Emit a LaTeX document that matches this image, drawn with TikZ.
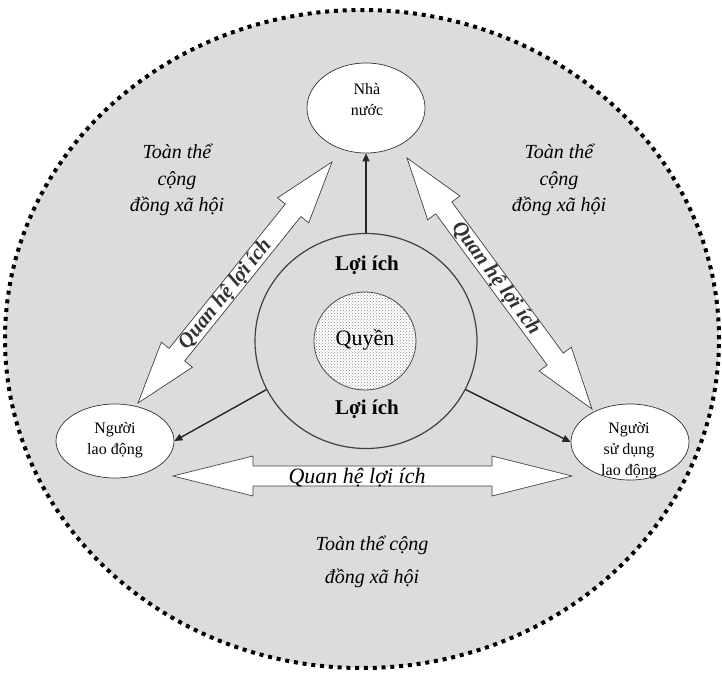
\documentclass[tikz,border=0pt]{standalone}
\usepackage{fontspec}
\setmainfont{Liberation Serif}
\usetikzlibrary{shapes.geometric,calc,arrows.meta,patterns}
\definecolor{fieldgray}{HTML}{DCDCDC}

% hollow double-headed block arrow between two named points
% #1 = head length, #2/#3 = tips
\newcommand\blockarrow[3][62pt]{%
  \coordinate (ha) at ($(#2)!#1!(#3)$);
  \coordinate (hb) at ($(#3)!#1!(#2)$);
  \draw[blockarrow] (#2) -- ($(ha)!20pt!90:(#3)$) -- ($(ha)!10pt!90:(#3)$)
    -- ($(hb)!10pt!270:(#2)$) -- ($(hb)!20pt!270:(#2)$) -- (#3)
    -- ($(hb)!20pt!90:(#2)$) -- ($(hb)!10pt!90:(#2)$)
    -- ($(ha)!10pt!270:(#3)$) -- ($(ha)!20pt!270:(#3)$) -- cycle;}

\begin{document}
\begin{tikzpicture}[x=1pt,y=-1pt,
  actor/.style={ellipse, draw=black!80, line width=0.7pt, fill=white, inner sep=0pt},
  actortext/.style={align=center, inner sep=0pt, font=\fontsize{16}{21}\selectfont},
  blockarrow/.style={draw=black!75, line width=0.7pt, fill=white, line join=miter},
  link/.style={draw=black!85, line width=1.4pt, -{Triangle[length=8pt,width=7pt]}},
  field/.style={align=center, inner sep=0pt, font=\fontsize{20}{26.5}\selectfont\itshape},
  qlabel/.style={inner sep=0pt, text=black!80, font=\fontsize{21}{21}\selectfont\bfseries\itshape},
  core/.style={inner sep=0pt, font=\fontsize{21}{21}\selectfont\bfseries}]
\useasboundingbox (0,0) rectangle (722,675);

% society as the surrounding field
\draw[line width=4pt, dash pattern=on 4pt off 4.8pt, fill=fieldgray]
  (362,339) ellipse [x radius=357pt, y radius=329pt];

% tips of the three relation arrows
\coordinate (qa1) at (332,162);
\coordinate (qa2) at (138,403);
\coordinate (qb1) at (407,158);
\coordinate (qb2) at (592,409);
\coordinate (qc1) at (173,476);
\coordinate (qc2) at (572,476);

\blockarrow{qa2}{qa1}
\blockarrow{qb1}{qb2}
\blockarrow[80pt]{qc1}{qc2}

% the three parties
\node[actor, minimum width=118pt, minimum height=90pt] (nn) at (366,108) {};
\node[actortext] (nn-t) at (367,100) {Nhà\\nước};
\node[actor, minimum width=118pt, minimum height=74pt] (nld) at (115,441) {};
\node[actortext] (nld-t) at (115,440) {Người\\lao động};
\node[actor, minimum width=118pt, minimum height=76pt] (nsd) at (630,442) {};
\node[actortext] (nsd-t) at (629,451) {Người\\sử dụng\\lao động};

% interests around rights
\node[ellipse, draw=black!75, line width=1.2pt, inner sep=0pt,
      minimum width=222pt, minimum height=215pt] (loi) at (366,341) {};
\node[ellipse, draw=black!70, line width=0.8pt, inner sep=0pt,
      preaction={fill=white}, pattern=crosshatch dots, pattern color=black!45,
      minimum width=102pt, minimum height=98pt] (quyen) at (365,341) {};
\node[inner sep=0pt, font=\fontsize{22}{22}\selectfont] (quyen-t) at (365,340) {Quyền};
\node[core] (loi-top) at (367,265) {Lợi ích};
\node[core] (loi-bot) at (367,409) {Lợi ích};

% links from the core to each party
\draw[link] (loi.north) -- (nn.south);
\draw[link] (loi.206) -- (nld.east);
\draw[link] (loi.334) -- (nsd.west);

% arrow labels
\path (qa2) -- (qa1) node[pos=0.45, sloped, qlabel] (qa-lab) {Quan hệ lợi ích};
\path (qb1) -- (qb2) node[pos=0.48, sloped, qlabel] (qb-lab) {Quan hệ lợi ích};
\node[inner sep=0pt, font=\fontsize{22}{22}\selectfont\itshape] (qc-lab) at (357,478) {Quan hệ lợi ích};

% society labels
\node[field] (f-left) at (177,180) {Toàn thể\\cộng\\đồng xã hội};
\node[field] (f-right) at (559,180) {Toàn thể\\cộng\\đồng xã hội};
\node[field, font=\fontsize{20}{33}\selectfont\itshape] (f-bottom) at (372,562) {Toàn thể cộng\\đồng xã hội};
\end{tikzpicture}
\end{document}
